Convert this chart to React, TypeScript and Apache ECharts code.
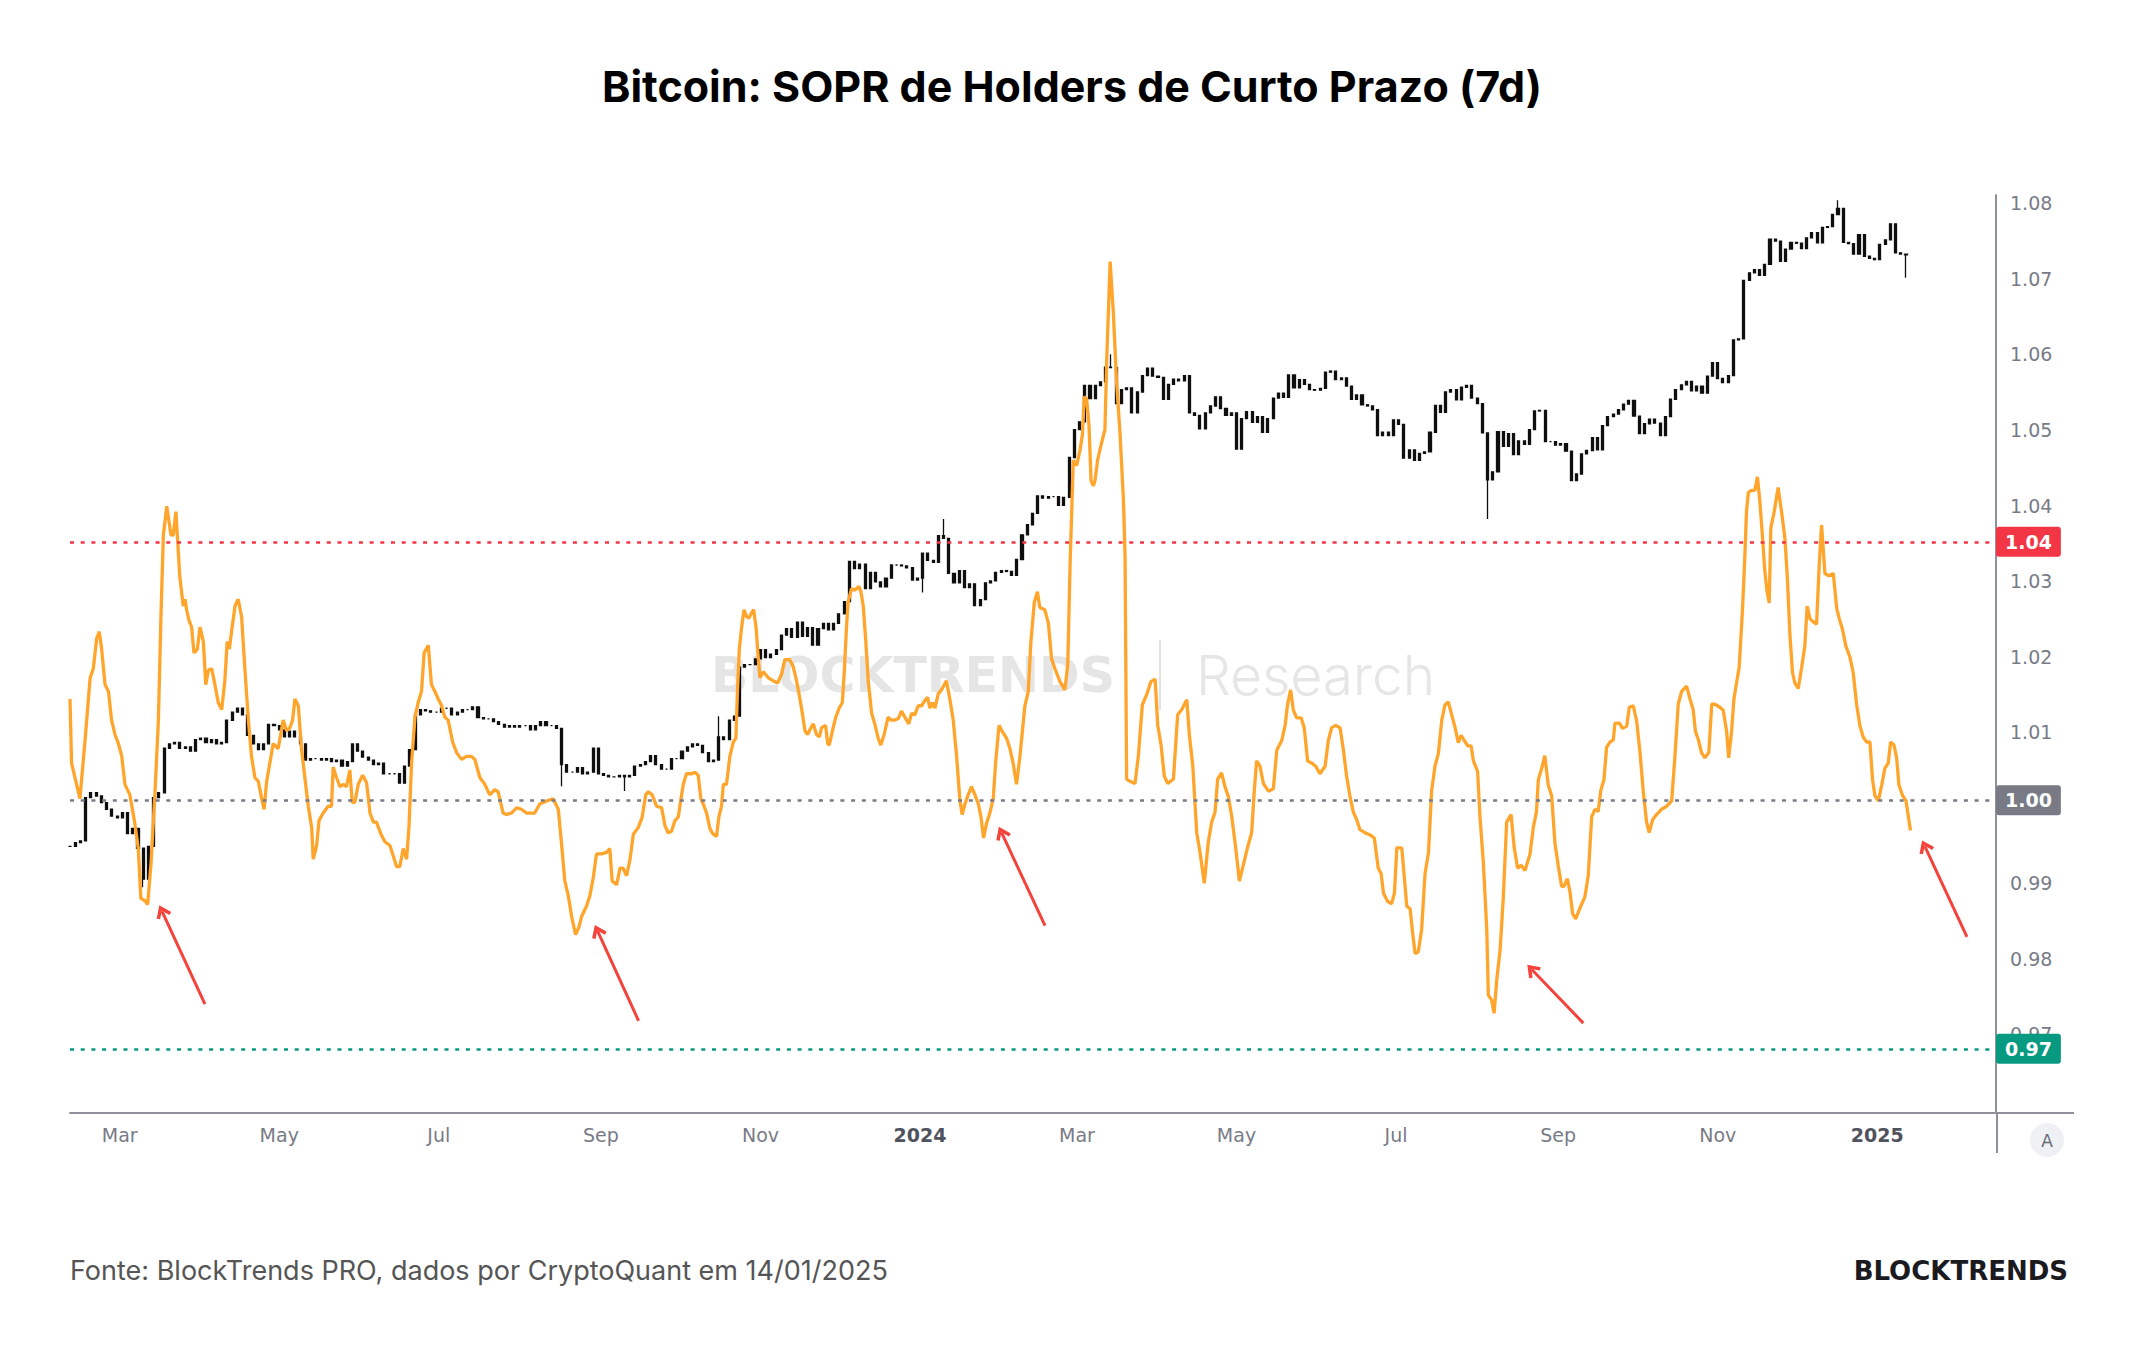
import React, { useEffect, useRef } from "react";
import * as echarts from "echarts";

// ---------- texts ----------
const TITLE = "Bitcoin: SOPR de Holders de Curto Prazo (7d)";
const FOOTER = "Fonte: BlockTrends PRO, dados por CryptoQuant em 14/01/2025";
const BRAND = "BLOCKTRENDS";
const WATERMARK_BOLD = "BLOCKTRENDS";
const WATERMARK_LIGHT = "Research";

// ---------- time frame (days counted from 2023-02-10) ----------
const DAY_MS = 86400000;
const START_MS = Date.UTC(2023, 1, 10);
const AXIS_END_DAY = 736.4;

// x-axis tick labels: [year, monthIndex]
const monthTickDates: [number, number][] = [
  [2023, 2], [2023, 4], [2023, 6], [2023, 8], [2023, 10], [2024, 0],
  [2024, 2], [2024, 4], [2024, 6], [2024, 8], [2024, 10], [2025, 0],
];
const monthTickLabels = ["Mar", "May", "Jul", "Sep", "Nov", "2024", "Mar", "May", "Jul", "Sep", "Nov", "2025"];

// right axis tick labels (1.00 sits under the grey level tag, as in the source)
const soprTicks = [0.97, 0.98, 0.99, 1.01, 1.02, 1.03, 1.04, 1.05, 1.06, 1.07, 1.08];
const SOPR_MIN = 0.9596;
const SOPR_MAX = 1.0811;

// hidden price axis (log, thousand USD)
const PRICE_MIN_K = 11.18;
const PRICE_MAX_K = 109.7;

// ---------- STH-SOPR (7d): [day, value] ----------
const soprSeries: [number, number][] = [
  [0, 1.0144], [0.6, 1.0059], [1.9, 1.004], [3.8, 1.0012], [5.7, 1.0087], [7.7, 1.0172], [8.9, 1.0184], [10.2, 1.0224], [11.2, 1.0233], [12.1, 1.021],
  [13.4, 1.0163], [14.7, 1.0154], [15.9, 1.0116], [17.2, 1.0097], [18.5, 1.0085], [19.8, 1.0068], [21, 1.0031], [22.9, 1.0017], [24.8, 0.9979], [26.1, 0.9946],
  [27.1, 0.988], [28.7, 0.9877], [29.7, 0.9872], [31, 0.9927], [32.5, 1.0021], [33.8, 1.0116], [34.8, 1.0257], [35.7, 1.0361], [37, 1.0399], [38.6, 1.0361],
  [39.5, 1.0361], [40.5, 1.0392], [42, 1.0305], [43.3, 1.0267], [44, 1.0276], [44.6, 1.0262], [45.5, 1.0248], [46.5, 1.0239], [47.4, 1.0205], [48.7, 1.021],
  [49.7, 1.0239], [51, 1.022], [51.9, 1.0163], [52.9, 1.0182], [54.2, 1.0184], [55.4, 1.0163], [56.7, 1.0139], [58, 1.013], [59.2, 1.0168], [60.1, 1.022],
  [60.9, 1.021], [61.8, 1.0234], [63.1, 1.0267], [64.3, 1.0276], [65.6, 1.0253], [66.9, 1.0182], [68.2, 1.0116], [69.4, 1.0068], [70.7, 1.004], [72, 1.0035],
  [73.3, 1.0012], [74.2, 0.9998], [75.2, 1.0035], [76.4, 1.0059], [77.7, 1.0085], [79.6, 1.0078], [81.5, 1.0116], [82.8, 1.0102], [84.1, 1.0106], [85.1, 1.0116],
  [86, 1.0144], [87.3, 1.0135], [88.5, 1.0078], [89.8, 1.004], [91.1, 1.0002], [92.4, 0.9974], [93, 0.9932], [94.3, 0.995], [95.2, 0.9983], [96.8, 0.9993],
  [98.7, 1.0002], [100, 1.0002], [100.6, 1.0054], [101.9, 1.004], [103.2, 1.0028], [104.5, 1.0031], [105.7, 1.0028], [107, 1.005], [107.9, 1.0007], [108.9, 1.0007],
  [110.2, 1.0031], [111.9, 1.0043], [113.4, 1.0033], [114.7, 0.9993], [116, 0.9981], [117.2, 0.9981], [118.9, 0.9965], [120.4, 0.9955], [122.3, 0.995], [123.6, 0.9936],
  [124.9, 0.9922], [126.1, 0.9922], [127.4, 0.9946], [128.7, 0.9932], [129.6, 0.9974], [130.6, 1.0059], [131.9, 1.012], [133.1, 1.0139], [134.4, 1.0154], [135.4, 1.0205],
  [137, 1.0215], [138.2, 1.0163], [139.5, 1.0154], [140.8, 1.0144], [142.1, 1.0135], [143.3, 1.012], [144.6, 1.0116], [146.3, 1.0087], [147.8, 1.0073], [149.7, 1.0064],
  [151.6, 1.0068], [153.5, 1.0068], [154.8, 1.0064], [156.7, 1.004], [158.6, 1.0031], [160.5, 1.0017], [162.4, 1.0024], [163.7, 1.0021], [165.6, 0.9993], [166.9, 0.9991],
  [168.8, 0.9993], [170.7, 1.0], [172.6, 0.9998], [174.5, 0.9993], [177.7, 0.9993], [179.6, 1.0005], [182.2, 1.0009], [184.7, 1.0012],
  [186.7, 0.9998], [188, 0.995], [189.2, 0.9903], [190.5, 0.9884], [191.8, 0.9856], [193.3, 0.9832], [194.6, 0.9842], [195.6, 0.9856], [197.5, 0.987], [198.8, 0.9884],
  [200.1, 0.9908], [201.3, 0.9939], [203.2, 0.9939], [205.2, 0.9941], [206.4, 0.9946], [207.3, 0.9903], [209, 0.9898], [210.3, 0.992], [211.5, 0.992], [212.8, 0.991],
  [214.1, 0.9931], [215.4, 0.9965], [217.3, 0.9974], [218.8, 0.9988], [220.1, 1.0017], [221.1, 1.0021], [222.6, 1.0017], [224.3, 1.0002], [226.2, 1.0], [227.5, 0.9976],
  [228.7, 0.9967], [230, 0.9969], [231.3, 0.9983], [232.6, 0.9988], [233.6, 1.0012], [234.5, 1.0031], [235.7, 1.0045], [237.7, 1.0045], [238.9, 1.0047], [240.2, 1.0043],
  [241.2, 1.0012], [242.1, 1.0005], [243.4, 0.9993], [244.7, 0.9972], [245.9, 0.9965], [247.2, 0.9962], [248.1, 0.9988], [249.1, 1.0002], [249.8, 1.0031], [251, 1.0031],
  [252.3, 1.0068], [253.6, 1.0087], [254.6, 1.0092], [255.2, 1.0154], [255.9, 1.021], [256.8, 1.0239], [257.7, 1.0262], [258.7, 1.0253], [259.6, 1.0251], [260.6, 1.0258],
  [261.4, 1.0262], [262.3, 1.0239], [263.1, 1.0201], [263.8, 1.0172], [265.1, 1.018], [267, 1.0172], [268.9, 1.0168], [270.5, 1.0165], [272.1, 1.0177], [273.3, 1.0196],
  [275.2, 1.0196], [276.5, 1.0187], [277.8, 1.0168], [279.1, 1.0144], [280, 1.0125], [281, 1.0102], [282, 1.0097], [283.3, 1.0106], [284.2, 1.0111], [285.4, 1.0097],
  [286.5, 1.0094], [287.4, 1.0106], [288.9, 1.0109], [289.7, 1.0085], [290.3, 1.0083], [291.8, 1.0106], [292.8, 1.012], [294.1, 1.0132], [295.3, 1.0139], [296, 1.0177],
  [296.9, 1.0239], [297.5, 1.0272], [298.8, 1.029], [300.1, 1.0288], [301.6, 1.0293], [302.4, 1.0286], [303.3, 1.0267], [304.2, 1.0224], [305.2, 1.0168], [306.5, 1.0125],
  [307.7, 1.0111], [309, 1.0092], [310, 1.0083], [311.3, 1.0097], [312.8, 1.012], [313.9, 1.0116], [315.4, 1.0116], [316.7, 1.0118], [317.9, 1.0128], [319.2, 1.012],
  [320.7, 1.0111], [321.8, 1.0125], [323, 1.0123], [324.3, 1.0135], [325.6, 1.0135], [326.9, 1.0142], [327.9, 1.0146], [328.8, 1.0132], [329.8, 1.0139], [330.7, 1.0132],
  [332, 1.0151], [333.2, 1.0156], [335.1, 1.0168], [336.4, 1.0144], [337.7, 1.0116], [339, 1.0068], [340.2, 1.0012], [341.1, 0.9991], [342.2, 1.0005], [343.4, 1.0017],
  [344.7, 1.0028], [346, 1.0017], [347.3, 1.0005], [348.3, 0.9988], [349.3, 0.996], [350.4, 0.9979], [351.7, 0.9993], [353, 1.0012], [353.9, 1.0059], [355.2, 1.0109],
  [356.8, 1.0099], [358.1, 1.0092], [359.4, 1.0078], [360.6, 1.0059], [361.9, 1.0031], [363.2, 1.0068], [365.1, 1.0135], [366.4, 1.0154], [367.4, 1.022], [368.7, 1.0272],
  [369.9, 1.0286], [370.8, 1.0265], [372.7, 1.0262],
  [374.1, 1.0244], [375.3, 1.0197], [376.6, 1.0184], [378.5, 1.0167], [380.4, 1.0156], [381.5, 1.019], [382.4, 1.0325], [383.6, 1.046], [384.9, 1.0453], [386.2, 1.0474],
  [387.1, 1.0494], [387.8, 1.0544], [388.7, 1.0541], [389.6, 1.0507], [390.4, 1.0433], [391.3, 1.0426], [391.9, 1.0433], [392.9, 1.046], [393.8, 1.0474], [394.7, 1.0487],
  [395.7, 1.05], [396.4, 1.0595], [397.7, 1.0723], [398.9, 1.0656], [400.2, 1.0561], [401.5, 1.0494], [402.8, 1.0406], [403.4, 1.0332], [404, 1.0038], [405.3, 1.0035],
  [407.2, 1.0032], [408.5, 1.0069], [410, 1.0136], [411.7, 1.015], [413.3, 1.0167], [414.9, 1.017], [415.9, 1.0109], [417.2, 1.0082], [418.4, 1.0042], [419.7, 1.0032],
  [421.9, 1.0038], [423.5, 1.0123], [425.1, 1.013], [427, 1.0143], [428, 1.0096], [429.3, 1.0055], [430.8, 0.9967], [432.1, 0.994], [433.7, 0.99], [435.2, 0.9954],
  [436.5, 0.9981], [437.8, 0.9994], [438.8, 1.0038], [440.3, 1.0046], [441.6, 1.0028], [442.9, 1.0015], [444.2, 0.9988], [445.7, 0.9947], [447.1, 0.9903], [448.6, 0.9924],
  [450.2, 0.9947], [451.8, 0.9967], [452.8, 1.0022], [453.7, 1.0062], [455, 1.0055], [456.3, 1.0032], [458.2, 1.0022], [460.1, 1.0025], [461.4, 1.0076], [463.3, 1.0089],
  [464.6, 1.0109], [465.5, 1.0136], [466.7, 1.0156], [467.7, 1.013], [469, 1.0119], [470.7, 1.0119], [471.9, 1.0106], [473.2, 1.0062], [474.8, 1.0059], [476.3, 1.0055],
  [477.9, 1.0045], [479.9, 1.0055], [481.1, 1.0089], [482.4, 1.0106], [483.9, 1.0109], [485.6, 1.0106], [486.9, 1.0076], [488.1, 1.0042], [489.4, 1.0015], [490.7, 0.9994],
  [492, 0.9984], [493.2, 0.9971], [495.1, 0.9967], [497.1, 0.9964], [498.7, 0.996], [500.2, 0.992], [501.3, 0.9913], [502.2, 0.9887], [503.8, 0.9876], [505.3, 0.9873],
  [506.4, 0.9887], [507.3, 0.9947], [509.2, 0.9947], [510.2, 0.9907], [511.1, 0.987], [512.4, 0.9866], [513.2, 0.9839], [514.3, 0.9807], [515.5, 0.9809], [516.8, 0.9839],
  [518.1, 0.9913], [519.4, 0.994], [520.6, 1.0022], [521.9, 1.0055], [523.2, 1.0072], [524.5, 1.0116], [525.7, 1.0136], [527, 1.014], [528.3, 1.0123], [529.6, 1.0106],
  [530.8, 1.0086], [531.9, 1.0096], [533.1, 1.0089], [534.4, 1.0082], [535.7, 1.0082], [536.6, 1.0062], [538.2, 1.0048], [539.1, 0.9988], [540.4, 0.9927], [541.7, 0.9839],
  [542.3, 0.9752], [543.6, 0.9745], [544.5, 0.9728], [545.5, 0.9772], [546.8, 0.9812], [548, 0.988], [549.3, 0.9981], [551, 0.9991], [552.2, 0.9947], [553.5, 0.992],
  [554.8, 0.9924], [556.3, 0.9917],
  [558.2, 0.9938], [559.5, 0.9974], [560.7, 0.9995], [561.4, 1.0037], [562.7, 1.0052], [563.9, 1.0069], [565.2, 1.003], [566.5, 1.0016], [567.8, 0.9952], [569, 0.9924],
  [570.3, 0.9896], [571.2, 0.9896], [572.5, 0.9906], [573.5, 0.9889], [574.5, 0.986], [575.7, 0.9853], [577.3, 0.9867], [579.2, 0.9882], [580.5, 0.991], [581.8, 0.9988],
  [583.1, 0.9998], [584.3, 0.9995], [585.3, 1.0023], [586.5, 1.0037], [587.5, 1.008], [588.8, 1.0087], [590.1, 1.009], [590.7, 1.0112], [592.4, 1.0112], [593.6, 1.0105],
  [595.2, 1.0108], [596.2, 1.0133], [597.7, 1.0135], [599, 1.0115], [600.3, 1.0073], [601.5, 1.0023], [602.8, 0.9981], [603.8, 0.9967], [605.1, 0.9984], [606.6, 0.9991],
  [608.5, 0.9998], [610.5, 1.0002], [612.4, 1.0009], [613.6, 1.0066], [614.9, 1.0137], [616.2, 1.0154], [618.1, 1.0161], [619.4, 1.0144], [620.6, 1.013], [621.5, 1.0101],
  [622.6, 1.009], [623.8, 1.0073], [625.1, 1.0066], [626.6, 1.0073], [627.7, 1.0137], [628.9, 1.0137], [630.8, 1.0133], [632.1, 1.0129], [633.4, 1.0101], [634.2, 1.0066],
  [635.3, 1.0101], [636.2, 1.0144], [637.2, 1.0165], [638.2, 1.0186], [639.5, 1.0264], [640.4, 1.0335], [641, 1.0392], [641.7, 1.0417], [642.9, 1.042], [644.2, 1.042],
  [645.2, 1.0438], [646.1, 1.0406], [647, 1.0364], [648, 1.0314], [648.9, 1.0285], [649.7, 1.0271], [650.3, 1.037], [651.6, 1.0392], [653.1, 1.0424], [654.4, 1.0392],
  [655.7, 1.0356], [656.6, 1.0307], [657.6, 1.0229], [658.6, 1.0179], [659.5, 1.0165], [660.8, 1.0158], [662.1, 1.0186], [663.3, 1.0214], [664.2, 1.0267], [665.3, 1.025],
  [666.5, 1.0246], [667.8, 1.0243], [668.8, 1.0321], [669.7, 1.0374], [671, 1.031], [672.5, 1.0307], [674.2, 1.031], [675.5, 1.0264], [676.5, 1.025], [677.7, 1.0236],
  [679, 1.0214], [680.5, 1.02], [681.8, 1.0179], [683.1, 1.0137], [684.4, 1.0108], [685.6, 1.0094], [686.9, 1.0087], [688.2, 1.0087], [689.2, 1.0037], [690.1, 1.0016],
  [691.4, 1.0009], [692.7, 1.003], [693.9, 1.0052], [695.2, 1.0059], [696.1, 1.0087], [697.4, 1.0083], [698.4, 1.0066], [699.3, 1.003], [700.7, 1.0016], [702, 1.0009],
  [702.9, 0.9988], [703.7, 0.997],
];

// ---------- BTC price (thousand USD), close every 2 days from day 0 ----------
const PRICE_STEP_DAYS = 2;
const priceCloseK = [
  21.7, 21.9, 22.0, 24.5, 24.8, 24.6, 24.2, 23.8, 23.4, 23.3,
  23.6, 22.4, 22.7, 21.6, 20.0, 21.7, 24.5, 24.8, 27.7, 28.0,
  28.1, 27.7, 27.8, 27.5, 28.3, 28.4, 28.1, 28.3, 28.0, 28.1,
  29.7, 30.3, 30.6, 30.1, 28.6, 28.0, 27.6, 28.0, 29.4, 29.3,
  29.0, 28.5, 28.9, 28.5, 28.0, 26.9, 27.0, 27.0, 26.9, 27.0,
  26.8, 26.9, 26.5, 26.8, 28.0, 27.5, 27.1, 26.9, 26.6, 26.7,
  26.0, 26.0, 26.0, 25.4, 26.5, 27.6, 30.1, 30.5, 30.4, 30.3,
  30.3, 30.6, 30.6, 30.1, 30.3, 30.5, 30.5, 30.7, 29.9, 29.8,
  29.8, 29.6, 29.4, 29.2, 29.3, 29.2, 29.3, 29.3, 29.0, 29.3,
  29.6, 29.3, 29.3, 29.1,
  26.6, 26.1, 26.1, 26.4, 26.0, 26.1, 27.7, 26.0,
  25.9, 25.8, 25.8, 25.9, 25.8, 25.9, 26.5, 26.6, 26.8, 27.2, 26.6, 26.3, 26.3, 27.0, 27.0,
  27.5, 27.8, 28.0, 27.9, 27.4, 26.8, 26.9, 28.5, 28.3, 29.7, 30.0, 33.9, 34.1, 34.1, 34.6,
  35.4, 34.7, 35.0, 35.4, 36.7, 37.3, 36.5, 37.9, 36.6, 37.4, 35.8, 37.3, 37.8, 37.2, 37.8,
  38.7, 39.9, 44.1, 43.3, 43.8, 41.2, 42.9, 41.9, 41.4, 42.3, 43.7, 43.7, 43.6, 43.4, 42.1, 42.3,
  45.0, 44.2, 44.0, 47.0, 46.7, 42.8, 41.8, 43.1, 41.3, 41.7, 39.5, 40.1, 41.8, 42.0, 42.9,
  43.1, 43.0, 42.6, 44.3, 47.1, 48.3, 49.7, 51.9, 51.6, 51.8, 51.8, 50.7, 51.7, 57.1, 61.2,
  62.4, 68.3, 66.1, 68.3, 68.9, 71.5, 71.4, 65.3, 67.6, 67.9, 63.8, 67.2, 70.0, 71.3, 69.9,
  69.7, 66.0, 68.5, 69.4, 69.1, 70.0, 63.8, 63.4, 61.3, 63.8, 64.9, 66.4, 64.5, 63.4, 63.8,
  58.3, 62.9, 64.0, 62.3, 63.2, 60.8, 62.9, 66.2, 67.0, 66.3, 70.1, 67.9, 69.3, 68.5, 67.6, 67.5,
  67.8, 70.6, 70.8, 69.3, 69.6, 68.2, 66.0, 66.7, 65.1, 64.9, 64.3, 60.3, 60.8, 60.3, 62.7,
  62.0, 57.0, 58.2, 56.7, 57.7, 57.9, 60.8, 65.0, 63.9, 67.2, 67.6, 65.9, 68.0, 68.3, 66.2,
  65.3, 60.7, 54.0, 55.1, 60.9, 58.7, 60.6, 57.5, 59.5, 59.0, 61.2, 64.1, 64.2, 59.4, 59.4, 58.9,
  59.1, 58.0, 53.9, 54.8, 57.6, 58.1, 60.0, 58.2, 61.8, 63.2, 63.6, 64.3, 65.2, 65.8, 63.3,
  60.6, 62.1, 62.8, 62.2, 60.3, 63.2, 66.0, 67.6, 68.4, 69.0, 67.4, 68.2, 67.0, 69.9, 72.3,
  69.5, 68.8, 70.0, 76.5, 76.7, 88.7, 90.4, 91.1, 89.8, 92.3, 98.3, 97.8, 93.0, 95.9, 97.5,
  97.3, 96.0, 98.6, 99.9, 97.4, 101.2, 101.4, 104.5, 106.1, 97.5, 97.2, 94.7, 99.4, 94.2, 93.7, 93.4,
  97.0, 98.1, 102.1, 95.0, 94.7, 94.5,
];
// notable intraday extremes: [day, price k]
const priceWicks: [number, number][] = [
  [28, 19.6], [188, 25.2], [212, 24.9], [248, 30.0], [326, 40.8],
  [334, 49.0], [398, 73.8], [542, 49.0], [676, 108.3], [702, 89.3],
];

// ---------- reference levels ----------
const levelValues = [1.0352, 1.001, 0.9681];
const levelColors = ["#f23645", "#787b86", "#089981"];

// ---------- annotation arrows: tail -> head, [day, sopr] ----------
const arrowTails: [number, number][] = [[51.6, 0.974], [217.4, 0.9718], [372.8, 0.9844], [578.6, 0.9715], [725.3, 0.9829]];
const arrowHeads: [number, number][] = [[35.2, 0.9863], [201.7, 0.9837], [356.2, 0.9967], [558.9, 0.9786], [709.2, 0.9949]];

const dayToMs = (d: number) => START_MS + d * DAY_MS;

const LABEL_FONT = "DejaVu Sans";
const AXIS_COLOR = "#8e919a";

function buildOption(): any {
  const monthTickValues = monthTickDates.map(([y, m]) => Date.UTC(y, m, 1));

  const candles = priceCloseK.map((c, i) => {
    const day = i * PRICE_STEP_DAYS;
    const open = i === 0 ? c : priceCloseK[i - 1];
    let low = Math.min(open, c);
    let high = Math.max(open, c);
    const w = priceWicks.find(([d]) => d === day);
    if (w) {
      low = Math.min(low, w[1]);
      high = Math.max(high, w[1]);
    }
    return [dayToMs(day), open, c, low, high];
  });

  const levelLines = levelValues.map((v, i) => ({
    yAxis: v,
    lineStyle: { color: levelColors[i], type: [4, 6.7], width: 2.5, cap: "butt" },
    label: {
      show: true,
      position: "end",
      distance: 0,
      formatter: v.toFixed(2),
      backgroundColor: levelColors[i],
      color: "#ffffff",
      fontWeight: "bold",
      fontSize: 19,
      fontFamily: LABEL_FONT,
      lineHeight: 20,
      padding: [5, 9, 5, 9],
      borderRadius: 3,
    },
  }));

  const arrowStyle = { color: "#f4433b", width: 3, type: "solid" };
  const arrowLines = arrowTails.map((t, i) => [
    { coord: [dayToMs(t[0]), t[1]], symbol: "none", lineStyle: arrowStyle, label: { show: false } },
    {
      coord: [dayToMs(arrowHeads[i][0]), arrowHeads[i][1]],
      symbol: "path://M7,0 L14,11 L11.5,13 L7,6 L2.5,13 L0,11 Z",
      symbolSize: [16, 13],
      lineStyle: arrowStyle,
      label: { show: false },
    },
  ]);

  return {
    animation: false,
    backgroundColor: "#ffffff",
    grid: { left: 70, top: 195, width: 1926, height: 918, containLabel: false },
    xAxis: {
      type: "value",
      min: START_MS,
      max: dayToMs(AXIS_END_DAY),
      axisLine: { show: true, onZero: false, lineStyle: { color: AXIS_COLOR, width: 2 } },
      axisTick: { show: false },
      splitLine: { show: false },
      axisLabel: {
        customValues: monthTickValues,
        margin: 12,
        color: "#787b86",
        fontSize: 19,
        fontFamily: LABEL_FONT,
        formatter: (val: number) => {
          let idx = -1;
          monthTickValues.forEach((t, k) => {
            if (Math.abs(t - val) < DAY_MS / 2) idx = k;
          });
          const txt = idx >= 0 ? monthTickLabels[idx] : "";
          return /^\d{4}$/.test(txt) ? `{yr|${txt}}` : txt;
        },
        rich: {
          yr: { fontWeight: "bold", color: "#50535e", fontSize: 19, fontFamily: LABEL_FONT },
        },
      },
    },
    yAxis: [
      {
        type: "value",
        position: "right",
        min: SOPR_MIN,
        max: SOPR_MAX,
        axisLine: { show: true, onZero: false, lineStyle: { color: AXIS_COLOR, width: 2 } },
        axisTick: { show: false },
        splitLine: { show: false },
        axisLabel: {
          customValues: soprTicks,
          margin: 14,
          color: "#787b86",
          fontSize: 19,
          fontFamily: LABEL_FONT,
          formatter: (v: number) => v.toFixed(2),
        },
      },
      {
        type: "log",
        logBase: 10,
        position: "left",
        min: PRICE_MIN_K,
        max: PRICE_MAX_K,
        show: false,
        splitLine: { show: false },
      },
    ],
    series: [
      {
        name: "BTC",
        type: "candlestick",
        xAxisIndex: 0,
        yAxisIndex: 1,
        z: 2,
        barWidth: 2.6,
        encode: { x: 0, y: [1, 2, 3, 4] },
        itemStyle: { color: "#0f0f0f", color0: "#0f0f0f", borderColor: "#0f0f0f", borderColor0: "#0f0f0f", borderWidth: 1.3 },
        data: candles,
        silent: true,
      },
      {
        name: "STH-SOPR 7d",
        type: "line",
        xAxisIndex: 0,
        yAxisIndex: 0,
        z: 3,
        showSymbol: false,
        symbol: "none",
        lineStyle: { color: "#ffa52c", width: 3.3 },
        data: soprSeries.map(([d, v]) => [dayToMs(d), v]),
        silent: true,
        markLine: {
          silent: true,
          animation: false,
          precision: 6,
          symbol: ["none", "none"],
          data: [...levelLines, ...arrowLines],
        },
      },
    ],
    graphic: [
      {
        type: "text",
        x: 1072,
        y: 86,
        z: 10,
        style: { text: TITLE, fill: "#000000", fontSize: 43, fontWeight: "bold", fontFamily: "Inter", align: "center", verticalAlign: "middle" },
      },
      {
        type: "text",
        x: 711,
        y: 675,
        z: 0,
        style: { text: WATERMARK_BOLD, fill: "#e5e5e5", fontSize: 49, fontWeight: "bold", fontFamily: "DejaVu Sans", align: "left", verticalAlign: "middle" },
      },
      {
        type: "line",
        z: 0,
        shape: { x1: 1160, y1: 640, x2: 1160, y2: 710 },
        style: { stroke: "#e2e2e2", lineWidth: 2 },
      },
      {
        type: "text",
        x: 1196,
        y: 675,
        z: 0,
        style: { text: WATERMARK_LIGHT, fill: "#e6e6e6", fontSize: 55, fontWeight: 300, fontFamily: "Inter", align: "left", verticalAlign: "middle" },
      },
      {
        type: "line",
        z: 5,
        shape: { x1: 1996, y1: 1113, x2: 2074, y2: 1113 },
        style: { stroke: AXIS_COLOR, lineWidth: 2 },
      },
      {
        type: "line",
        z: 5,
        shape: { x1: 1997, y1: 1113, x2: 1997, y2: 1153 },
        style: { stroke: AXIS_COLOR, lineWidth: 2 },
      },
      {
        type: "circle",
        z: 5,
        shape: { cx: 2047, cy: 1140, r: 17 },
        style: { fill: "#eff0f3" },
      },
      {
        type: "text",
        x: 2047,
        y: 1141,
        z: 6,
        style: { text: "A", fill: "#6a6d78", fontSize: 17, fontFamily: LABEL_FONT, align: "center", verticalAlign: "middle" },
      },
      {
        type: "text",
        x: 70,
        y: 1270,
        z: 10,
        style: { text: FOOTER, fill: "#555555", fontSize: 27, fontFamily: "Inter", align: "left", verticalAlign: "middle" },
      },
      {
        type: "text",
        x: 2068,
        y: 1271,
        z: 10,
        style: { text: BRAND, fill: "#1b1b1f", fontSize: 26, fontWeight: "bold", fontFamily: "DejaVu Sans", align: "right", verticalAlign: "middle" },
      },
    ],
  };
}

export default function App() {
  const ref = useRef<HTMLDivElement | null>(null);

  useEffect(() => {
    document.body.style.margin = "0";
    if (!ref.current) return;
    const chart = echarts.init(ref.current, null, { renderer: "svg" });
    chart.setOption(buildOption());
    return () => {
      chart.dispose();
    };
  }, []);

  return <div ref={ref} style={{ width: 2144, height: 1350, background: "#ffffff" }} />;
}
